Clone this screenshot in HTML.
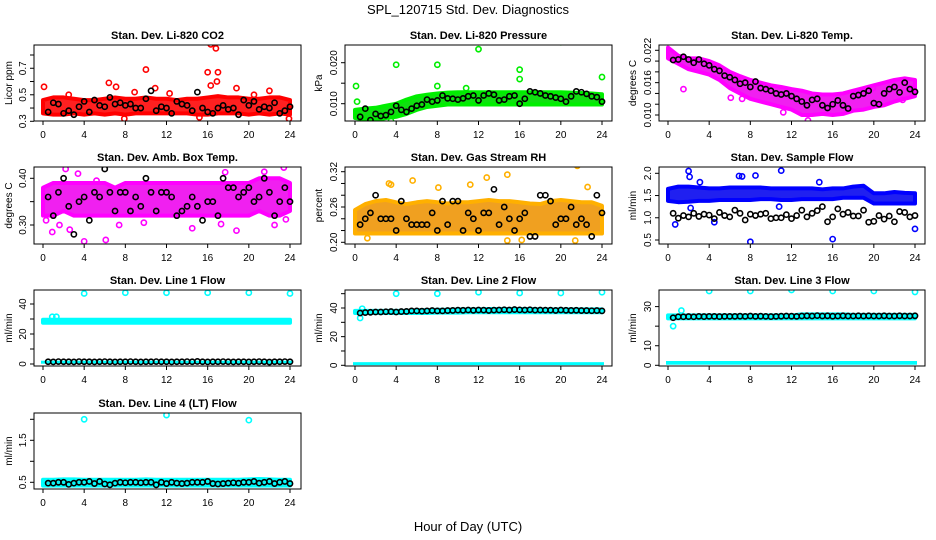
<!DOCTYPE html>
<html><head><meta charset="utf-8"><style>
html,body{margin:0;padding:0;background:#fff;}
svg{display:block;font-family:"Liberation Sans",sans-serif;}
</style></head><body>
<svg id="chart" width="936" height="540" viewBox="0 0 936 540">
<text x="468" y="14" text-anchor="middle" font-size="13">SPL_120715  Std. Dev. Diagnostics</text>
<text x="468" y="531" text-anchor="middle" font-size="13">Hour of Day (UTC)</text>
</svg>
<script>
const hours25 = [0,1,2,3,4,5,6,7,8,9,10,11,12,13,14,15,16,17,18,19,20,21,22,23,24];
const hoursBlack = [0.5,1,1.5,2,2.5,3,3.5,4,4.5,5,5.5,6,6.5,7,7.5,8,8.5,9,9.5,10,10.5,11,11.5,12,12.5,13,13.5,14,14.5,15,15.5,16,16.5,17,17.5,18,18.5,19,19.5,20,20.5,21,21.5,22,22.5,23,23.5,24];
const xTicks = [0,4,8,12,16,20,24];

// CO2
const co2Lower = [0.36,0.35,0.35,0.36,0.35,0.36,0.35,0.36,0.35,0.36,0.36,0.36,0.36,0.36,0.36,0.35,0.35,0.36,0.36,0.36,0.35,0.36,0.35,0.36,0.35];
const co2Upper = [0.46,0.48,0.48,0.47,0.46,0.46,0.47,0.48,0.47,0.47,0.48,0.47,0.47,0.46,0.47,0.47,0.48,0.49,0.48,0.48,0.47,0.47,0.48,0.48,0.46];
const co2OutT = [0.1,6.4,7.1,10,10.9,16,16.3,16.8,17,16.3,16.9,18.8,22,23.9,7.9,15.2,8.9,2.5,12.3,20.5];
const co2OutV = [0.56,0.59,0.56,0.69,0.55,0.67,0.88,0.85,0.67,0.57,0.60,0.55,0.53,0.32,0.32,0.33,0.52,0.50,0.51,0.50];
const co2Black = [0.37,0.44,0.43,0.36,0.38,0.35,0.41,0.45,0.37,0.46,0.42,0.41,0.48,0.43,0.44,0.42,0.43,0.40,0.40,0.47,0.53,0.38,0.41,0.40,0.36,0.45,0.43,0.42,0.38,0.52,0.40,0.37,0.36,0.40,0.42,0.39,0.40,0.35,0.46,0.42,0.45,0.39,0.41,0.40,0.44,0.36,0.38,0.41];
// Pressure
const presLower = [0.0065,0.0062,0.0060,0.0065,0.0068,0.0075,0.0085,0.0092,0.0095,0.0098,0.0098,0.0098,0.0098,0.0098,0.0098,0.0098,0.0098,0.0098,0.0098,0.0098,0.0098,0.0098,0.0098,0.0098,0.0098];
const presUpper = [0.0085,0.0088,0.0090,0.0095,0.0100,0.0110,0.0118,0.0122,0.0125,0.0127,0.0128,0.0128,0.0128,0.0128,0.0128,0.0128,0.0128,0.0128,0.0128,0.0128,0.0128,0.0127,0.0126,0.0125,0.0123];
const presOutT = [0.1,0.2,4,8,8,10.8,12,16,16,20,24,1.9,3.5];
const presOutV = [0.0143,0.0105,0.0195,0.0195,0.0143,0.0138,0.0233,0.0183,0.0160,0.0250,0.0165,0.0057,0.0058];
const presBlack = [0.0068,0.0088,0.0060,0.0075,0.0070,0.0072,0.0080,0.0095,0.0085,0.0080,0.0088,0.0095,0.0098,0.0110,0.0105,0.0108,0.0120,0.0113,0.0112,0.0110,0.0113,0.0118,0.0120,0.0108,0.0120,0.0125,0.0122,0.0108,0.0110,0.0118,0.0120,0.0100,0.0112,0.0130,0.0128,0.0125,0.0120,0.0118,0.0115,0.0112,0.0105,0.0118,0.0130,0.0128,0.0124,0.0118,0.0116,0.0105];
// Li-820 Temp
const tempLower = [0.0205,0.0195,0.0185,0.0180,0.0175,0.0165,0.0150,0.0140,0.0130,0.0125,0.0120,0.0115,0.0110,0.0100,0.0100,0.0102,0.0100,0.0102,0.0108,0.0110,0.0115,0.0118,0.0125,0.0130,0.0135];
const tempUpper = [0.0225,0.0210,0.0205,0.0205,0.0200,0.0192,0.0180,0.0172,0.0165,0.0160,0.0155,0.0152,0.0148,0.0145,0.0140,0.0138,0.0138,0.0140,0.0145,0.0150,0.0155,0.0160,0.0165,0.0168,0.0165];
const tempOutT = [1.5,7.2,6.8,11.2,13.6,19.9,22.8,23.6,6.1];
const tempOutV = [0.0148,0.0130,0.0163,0.0105,0.0090,0.0150,0.0128,0.0150,0.0132];
const tempBlack = [0.0202,0.0203,0.0208,0.0203,0.0197,0.0203,0.0195,0.0192,0.0185,0.0182,0.0173,0.0170,0.0165,0.0158,0.0160,0.0152,0.0162,0.0150,0.0148,0.0145,0.0140,0.0138,0.0140,0.0135,0.0130,0.0125,0.0118,0.0128,0.0130,0.0118,0.0113,0.0120,0.0127,0.0118,0.0112,0.0135,0.0137,0.0140,0.0145,0.0122,0.0120,0.0140,0.0148,0.0152,0.0142,0.0160,0.0148,0.0143];
// Amb box temp
const ambLower = [0.32,0.32,0.33,0.32,0.32,0.32,0.32,0.32,0.32,0.32,0.32,0.32,0.32,0.32,0.32,0.32,0.32,0.32,0.32,0.32,0.32,0.33,0.32,0.32,0.33];
const ambUpper = [0.38,0.39,0.39,0.39,0.39,0.39,0.39,0.38,0.39,0.39,0.39,0.39,0.39,0.39,0.39,0.39,0.39,0.39,0.39,0.39,0.39,0.40,0.40,0.40,0.39];
const ambOutT = [0.9,1.6,2.2,2.6,3.4,4.0,6.1,7.4,9.8,14.5,17.3,18.8,22.5,23.4,23.6,17.7,21.5,0.3,5.2];
const ambOutV = [0.285,0.300,0.420,0.290,0.410,0.265,0.268,0.300,0.305,0.293,0.302,0.288,0.300,0.423,0.312,0.413,0.414,0.310,0.395];
const ambBlack = [0.36,0.32,0.37,0.40,0.34,0.28,0.35,0.36,0.31,0.37,0.36,0.42,0.37,0.33,0.37,0.37,0.33,0.36,0.34,0.40,0.37,0.33,0.37,0.37,0.36,0.32,0.33,0.34,0.36,0.34,0.31,0.35,0.35,0.32,0.40,0.38,0.38,0.36,0.37,0.38,0.35,0.36,0.40,0.37,0.32,0.35,0.38,0.35];
// RH
const rhLower = [0.215,0.215,0.215,0.215,0.215,0.215,0.215,0.215,0.215,0.215,0.215,0.215,0.215,0.215,0.215,0.215,0.215,0.215,0.215,0.215,0.215,0.215,0.215,0.215,0.215];
const rhUpper = [0.255,0.265,0.270,0.272,0.268,0.265,0.268,0.270,0.268,0.266,0.268,0.268,0.270,0.272,0.270,0.270,0.268,0.266,0.265,0.270,0.272,0.270,0.268,0.268,0.262];
const rhOutT = [1.2,3.3,3.5,5.6,8.1,12.8,14.8,14.8,21.6,21.4,16.2,22.6,11.2];
const rhOutV = [0.207,0.300,0.298,0.305,0.293,0.310,0.315,0.203,0.330,0.203,0.204,0.294,0.298];
const rhBlack = [0.23,0.24,0.25,0.28,0.24,0.24,0.24,0.22,0.27,0.24,0.23,0.23,0.23,0.23,0.25,0.22,0.27,0.23,0.27,0.27,0.22,0.25,0.24,0.22,0.25,0.25,0.29,0.23,0.26,0.24,0.22,0.24,0.25,0.21,0.21,0.28,0.28,0.27,0.23,0.24,0.24,0.26,0.23,0.24,0.23,0.21,0.28,0.25];
// Sample flow
const sfLower = [1.38,1.35,1.36,1.38,1.38,1.40,1.40,1.40,1.40,1.42,1.42,1.40,1.40,1.42,1.42,1.42,1.42,1.45,1.45,1.45,1.32,1.32,1.32,1.32,1.32];
const sfUpper = [1.65,1.70,1.70,1.68,1.66,1.66,1.68,1.68,1.68,1.68,1.66,1.66,1.66,1.66,1.66,1.64,1.66,1.66,1.70,1.72,1.55,1.55,1.58,1.56,1.55];
const sfOutT = [0.7,2.0,2.1,6.9,7.2,8.0,8.5,11.0,16.0,24.0,4.5,2.2,3.1,14.7,10.8];
const sfOutV = [0.85,2.05,1.92,1.94,1.93,0.46,1.95,2.06,0.52,0.75,0.90,1.22,1.80,1.80,1.25];
const sfBlack = [1.10,0.99,1.05,1.02,1.10,1.03,1.08,1.06,0.98,1.12,1.05,1.02,1.17,1.10,0.95,1.08,1.05,1.08,1.10,0.98,1.00,1.00,1.07,0.98,1.05,1.17,1.02,1.10,1.16,1.25,0.91,1.02,1.20,1.08,1.12,1.04,1.04,1.17,0.90,0.92,1.05,0.97,1.04,0.91,1.14,1.12,1.02,1.05];
// Line 1
const l1Lower = [27.5,27.5,27.5,27.5,27.5,27.5,27.5,27.5,27.5,27.5,27.5,27.5,27.5,27.5,27.5,27.5,27.5,27.5,27.5,27.5,27.5,27.5,27.5,27.5,27.5];
const l1Upper = [29.5,29.5,29.5,29.5,29.5,29.5,29.5,29.5,29.5,29.5,29.5,29.5,29.5,29.5,29.5,29.5,29.5,29.5,29.5,29.5,29.5,29.5,29.5,29.5,29.5];
const l1OutT = [4,8,12,16,20,24,0.9,1.3];
const l1OutV = [47,47.5,47.5,47.5,47.5,47,31.5,31.5];
const l1Black = [1.5,1.4,1.6,1.5,1.5,1.4,1.6,1.5,1.5,1.4,1.5,1.6,1.5,1.4,1.5,1.5,1.6,1.5,1.4,1.5,1.5,1.6,1.5,1.5,1.4,1.5,1.5,1.6,1.5,1.7,1.5,1.4,1.5,1.5,1.6,1.5,1.4,1.5,1.5,1.4,1.5,1.6,1.5,1.3,1.5,1.5,1.6,1.5];
// Line 2
const l2Lower = [36.5,36.5,36.5,36.5,36.5,36.5,36.5,36.5,36.8,36.8,36.8,37,37,37,37,37,37,37,37,37,37,37,37,37,37];
const l2Upper = [38,38,38,38,38,38,38.5,38.5,38.8,38.8,39,39,39,39.3,39.3,39.3,39.3,39.3,39,39,39,39,39,39,39];
const l2OutT = [4,8,12,16,20,24,0.5,0.7];
const l2OutV = [50,50,51,50.5,50.5,51,33,39.5];
const l2Black = [36.5,36.8,37,37.2,37.2,37.4,37.5,37.2,37.5,37.6,38,38,37.8,38,38.2,38,38,38.2,38.3,38.5,38.4,38.6,38.4,38.6,38.5,38.3,38.5,38.6,38.8,38.6,38.9,38.7,38.6,38.8,38.5,38.6,38.5,38.5,38.3,38.6,38.4,38.3,38.4,38.2,38.2,38.1,38.2,38.0];
// Line 3
const l3Lower = [24,24,24,24,24,24,24,24,24,24,24,24,24,24,24,24,24,24,24,24,24,24,24,24,24];
const l3Upper = [25.5,25.5,25.5,25.5,25.5,25.5,25.5,25.5,25.5,25.5,25.5,25.5,25.5,26,26,26,26,26,25.8,25.8,25.8,25.8,25.8,25.8,25.8];
const l3OutT = [4,8,12,16,20,24,0.5,1.3];
const l3OutV = [38,38,38.5,38,38,37.5,20,28];
const l3Black = [24.3,24.8,24.8,24.9,24.8,25,24.9,25,25,24.9,25,25,25,25.1,25,25.2,25,25.1,25,24.9,25,25.1,25.2,25.1,25,25.2,25.3,25.2,25.4,25.2,25.3,25.1,25.2,25.3,25.2,25.2,25.3,25.2,25.3,25.2,25.2,25.3,25.2,25.2,25.3,25.2,25.2,25.3];
// Line 4
const l4Lower = [0.42,0.42,0.42,0.42,0.42,0.42,0.42,0.42,0.42,0.42,0.42,0.42,0.42,0.42,0.42,0.42,0.42,0.42,0.42,0.42,0.42,0.42,0.42,0.42,0.42];
const l4Upper = [0.56,0.56,0.57,0.57,0.56,0.56,0.56,0.56,0.56,0.56,0.57,0.56,0.56,0.56,0.56,0.56,0.56,0.56,0.56,0.56,0.57,0.58,0.57,0.56,0.56];
const l4OutT = [4,12,20];
const l4OutV = [2.0,2.1,1.98];
const l4Black = [0.48,0.48,0.50,0.50,0.45,0.48,0.50,0.50,0.52,0.47,0.52,0.46,0.44,0.48,0.50,0.49,0.50,0.50,0.49,0.50,0.50,0.44,0.50,0.47,0.50,0.48,0.47,0.48,0.50,0.50,0.50,0.52,0.47,0.46,0.47,0.48,0.49,0.48,0.50,0.50,0.52,0.48,0.50,0.52,0.47,0.50,0.52,0.47];

const NS = 'http://www.w3.org/2000/svg';
const svg = document.getElementById('chart');
function mk(tag, attrs, parent){ const e=document.createElementNS(NS,tag); for(const k in attrs) e.setAttribute(k,attrs[k]); (parent||svg).appendChild(e); return e; }

const cols = [{L:34,R:301,x0:43,x24:290,yt:12},{L:345,R:612,x0:355,x24:602,yt:322},{L:659,R:925,x0:668,x24:915,yt:636}];
const rows = [{T:45,B:121},{T:167,B:244},{T:290,B:366},{T:413,B:489}];

const panels = [
 {name:'co2',title:'Stan. Dev. Li-820 CO2',yl:'Licor ppm',c:0,r:0,v0:0.3,p0:121.3,v1:0.8,p1:55,ticks:[0.3,0.4,0.5,0.6,0.7,0.8],labels:[0.3,0.5,0.7],dec:1,color:'#ff0000',fill:'#ff2020',lo:co2Lower,hi:co2Upper,oT:co2OutT,oV:co2OutV,bk:co2Black},
 {name:'pressure',title:'Stan. Dev. Li-820 Pressure',yl:'kPa',c:1,r:0,v0:0.010,p0:103.7,v1:0.020,p1:62.7,ticks:[0.010,0.015,0.020],labels:[0.010,0.020],dec:3,color:'#00ee00',fill:'#10e010',lo:presLower,hi:presUpper,oT:presOutT,oV:presOutV,bk:presBlack},
 {name:'li820-temp',title:'Stan. Dev. Li-820 Temp.',yl:'degrees C',c:2,r:0,v0:0.010,p0:115,v1:0.022,p1:50.3,ticks:[0.010,0.012,0.014,0.016,0.018,0.020,0.022],labels:[0.010,0.016,0.022],dec:3,color:'#ff00ff',fill:'#f020f0',lo:tempLower,hi:tempUpper,oT:tempOutT,oV:tempOutV,bk:tempBlack},
 {name:'amb-box-temp',title:'Stan. Dev. Amb. Box Temp.',yl:'degrees C',c:0,r:1,v0:0.30,p0:225,v1:0.40,p1:178.3,ticks:[0.30,0.35,0.40],labels:[0.30,0.40],dec:2,color:'#ff00ff',fill:'#f020f0',lo:ambLower,hi:ambUpper,oT:ambOutT,oV:ambOutV,bk:ambBlack},
 {name:'gas-stream-rh',title:'Stan. Dev. Gas Stream RH',yl:'percent',c:1,r:1,v0:0.20,p0:242.3,v1:0.32,p1:171.7,ticks:[0.20,0.22,0.24,0.26,0.28,0.30,0.32],labels:[0.20,0.26,0.32],dec:2,color:'#ffb000',fill:'#f0a020',lo:rhLower,hi:rhUpper,oT:rhOutT,oV:rhOutV,bk:rhBlack},
 {name:'sample-flow',title:'Stan. Dev. Sample Flow',yl:'ml/min',c:2,r:1,v0:0.5,p0:240,v1:2.0,p1:173.3,ticks:[0.5,1.0,1.5,2.0],labels:[0.5,1.0,1.5,2.0],dec:1,color:'#0000ff',fill:'#2020f0',lo:sfLower,hi:sfUpper,oT:sfOutT,oV:sfOutV,bk:sfBlack},
 {name:'line1-flow',title:'Stan. Dev. Line 1 Flow',yl:'ml/min',c:0,r:2,v0:0,p0:364,v1:40,p1:304,ticks:[0,10,20,30,40],labels:[0,20,40],dec:0,color:'#00ffff',fill:'#10f0f0',lo:l1Lower,hi:l1Upper,oT:l1OutT,oV:l1OutV,bk:l1Black,base:[0.8,2.2]},
 {name:'line2-flow',title:'Stan. Dev. Line 2 Flow',yl:'ml/min',c:1,r:2,v0:0,p0:365.3,v1:40,p1:308,ticks:[0,10,20,30,40,50],labels:[0,20,40],dec:0,color:'#00ffff',fill:'#10f0f0',lo:l2Lower,hi:l2Upper,oT:l2OutT,oV:l2OutV,bk:l2Black,base:[0.3,2.2]},
 {name:'line3-flow',title:'Stan. Dev. Line 3 Flow',yl:'ml/min',c:2,r:2,v0:0,p0:365.3,v1:30,p1:306.6,ticks:[0,10,20,30],labels:[0,10,30],dec:0,color:'#00ffff',fill:'#10f0f0',lo:l3Lower,hi:l3Upper,oT:l3OutT,oV:l3OutV,bk:l3Black,base:[0.3,2.2]},
 {name:'line4-flow',title:'Stan. Dev. Line 4 (LT) Flow',yl:'ml/min',c:0,r:3,v0:0.5,p0:482.3,v1:2.0,p1:419.3,ticks:[0.5,1.0,1.5,2.0],labels:[0.5,1.5],dec:1,color:'#00ffff',fill:'#10f0f0',lo:l4Lower,hi:l4Upper,oT:l4OutT,oV:l4OutV,bk:l4Black}
];

panels.forEach(p=>{
  const col=cols[p.c], row=rows[p.r];
  const g=mk('g',{});
  
  
  const xs=t=>col.x0+(col.x24-col.x0)*t/24;
  const ys=v=>p.p0+(p.p1-p.p0)*(v-p.v0)/(p.v1-p.v0);
  const clip='clip-'+p.name;
  const cp=mk('clipPath',{id:clip},g);
  mk('rect',{x:col.L,y:row.T,width:col.R-col.L,height:row.B-row.T},cp);
  const plot=mk('g',{'clip-path':'url(#'+clip+')'},g);
  // band
  let pts=hours25.map((h,i)=>xs(h)+','+ys(p.hi[i]));
  pts=pts.concat(hours25.slice().reverse().map((h,j)=>xs(h)+','+ys(p.lo[hours25.length-1-j])));
  const band=mk('polygon',{points:pts.join(' '),fill:p.fill,stroke:p.color,'stroke-width':4,'stroke-linejoin':'round'},plot);
  
  
  if(p.base){
    const bb=mk('rect',{x:xs(0)-2,y:ys(p.base[1]),width:xs(24)-xs(0)+4,height:Math.max(3,ys(p.base[0])-ys(p.base[1])),fill:p.color},plot);
    
    
  }
  p.oT.forEach((t,i)=>{
    const c=mk('circle',{cx:xs(t),cy:ys(p.oV[i]),r:2.6,fill:'none',stroke:p.color,'stroke-width':1.6},plot);
    
    
  });
  hoursBlack.forEach((t,i)=>{
    const c=mk('circle',{cx:xs(t),cy:ys(p.bk[i]),r:2.6,fill:'none',stroke:'#000','stroke-width':1.6},plot);
    
    
  });
  // frame
  mk('rect',{x:col.L,y:row.T,width:col.R-col.L,height:row.B-row.T,fill:'none',stroke:'#000','stroke-width':1},g);
  // title
  const tt=mk('text',{x:(col.L+col.R)/2,y:row.T-6,'text-anchor':'middle','font-size':11,'font-weight':'bold'},g);
  tt.textContent=p.title;
  
  
  // x axis
  xTicks.forEach(t=>{
    mk('line',{x1:xs(t),x2:xs(t),y1:row.B,y2:row.B+4,stroke:'#000'},g);
    const tx=mk('text',{x:xs(t),y:row.B+17,'text-anchor':'middle','font-size':10},g);
    tx.textContent=t;
    
    
  });
  // y axis
  p.ticks.forEach(v=>{
    mk('line',{x1:col.L-4,x2:col.L,y1:ys(v),y2:ys(v),stroke:'#000'},g);
  });
  p.labels.forEach(v=>{
    const y=ys(v), x=col.L-8;
    const tx=mk('text',{x:x,y:y,'text-anchor':'middle','font-size':10,transform:'rotate(-90 '+x+' '+y+')'},g);
    tx.textContent=v.toFixed(p.dec);
    
    
  });
  const ym=(row.T+row.B)/2;
  const yl=mk('text',{x:col.yt,y:ym,'text-anchor':'middle','font-size':10,transform:'rotate(-90 '+col.yt+' '+ym+')'},g);
  yl.textContent=p.yl;
  
  
});
</script>
</body></html>
